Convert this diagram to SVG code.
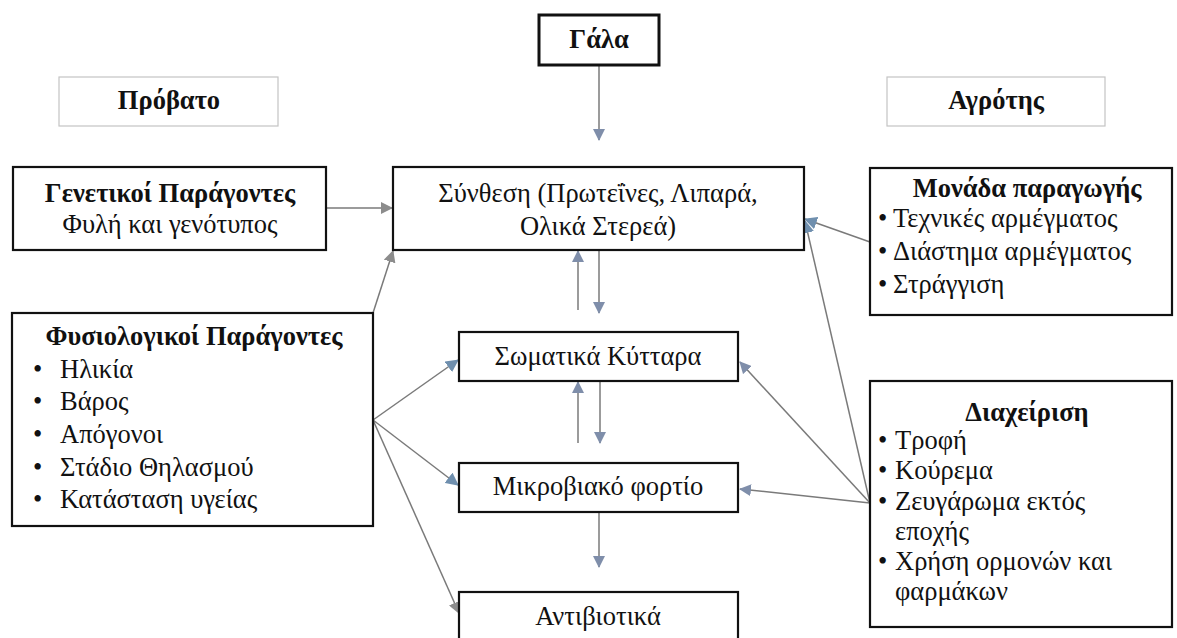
<svg xmlns="http://www.w3.org/2000/svg" width="1177" height="638" viewBox="0 0 1177 638">
<defs>
<style>
.t{font-family:"Liberation Serif","DejaVu Serif","Times New Roman",serif;font-size:26.5px;fill:#111}
.b{font-weight:bold}
.m{text-anchor:middle}
.box{fill:#fff;stroke:#111;stroke-width:2.2}
.lbox{fill:#fff;stroke:#c4c4c4;stroke-width:1.2}
.c{stroke:#7a7a7a;stroke-width:1.5;fill:none}
</style>
<marker id="ab" viewBox="0 0 12 12" refX="11" refY="6" markerWidth="12" markerHeight="12" markerUnits="userSpaceOnUse" orient="auto"><path d="M0,0 L12,6 L0,12 z" fill="#7f8eaa"/></marker>
<marker id="ag" viewBox="0 0 12 12" refX="11" refY="6" markerWidth="12" markerHeight="12" markerUnits="userSpaceOnUse" orient="auto"><path d="M0,0 L12,6 L0,12 z" fill="#8c8c8c"/></marker>
<marker id="as" viewBox="0 0 12 12" refX="11" refY="6" markerWidth="13" markerHeight="13" markerUnits="userSpaceOnUse" orient="auto"><path d="M0,0 L12,6 L0,12 z" fill="#6f8fae"/></marker>
</defs>
<rect width="1177" height="638" fill="#fff"/>

<g id="connectors">
<line class="c" x1="599" y1="65" x2="599" y2="140" marker-end="url(#ab)"/>
<line class="c" x1="326" y1="208" x2="392" y2="208" marker-end="url(#ag)"/>
<line class="c" x1="373" y1="313" x2="393" y2="251" marker-end="url(#ag)"/>
<line class="c" x1="578" y1="310" x2="578" y2="251" marker-end="url(#ab)"/>
<line class="c" x1="599" y1="251" x2="599" y2="313" marker-end="url(#ab)"/>
<line class="c" x1="578" y1="443" x2="578" y2="382" marker-end="url(#ab)"/>
<line class="c" x1="600" y1="382" x2="600" y2="443" marker-end="url(#ab)"/>
<line class="c" x1="599" y1="513" x2="599" y2="567" marker-end="url(#ab)"/>
<line class="c" x1="373" y1="420" x2="458" y2="360" marker-end="url(#as)"/>
<line class="c" x1="373" y1="420" x2="458" y2="485" marker-end="url(#as)"/>
<line class="c" x1="373" y1="420" x2="459" y2="613" marker-end="url(#ag)"/>
<line class="c" x1="870" y1="242" x2="805" y2="219" marker-end="url(#as)"/>
<line class="c" x1="870" y1="503" x2="805" y2="221" marker-end="url(#as)"/>
<line class="c" x1="870" y1="503" x2="740" y2="362" marker-end="url(#ab)"/>
<line class="c" x1="870" y1="503" x2="740" y2="489" marker-end="url(#ab)"/>
</g>

<g id="gala">
<rect x="539" y="15" width="120" height="50" fill="#fff" stroke="#111" stroke-width="3"/>
<text class="t b m" x="599" y="48">Γάλα</text>
</g>

<g id="provato">
<rect class="lbox" x="59" y="77" width="219" height="49"/>
<text class="t b m" x="169" y="109">Πρόβατο</text>
</g>

<g id="agrotis">
<rect class="lbox" x="887" y="77" width="218" height="49"/>
<text class="t b m" x="996" y="109">Αγρότης</text>
</g>

<g id="genetikoi">
<rect class="box" x="13" y="167" width="313" height="83"/>
<text class="t b m" x="170" y="202">Γενετικοί Παράγοντες</text>
<text class="t m" x="170" y="233">Φυλή και γενότυπος</text>
</g>

<g id="synthesi">
<rect class="box" x="393" y="167" width="411" height="83"/>
<text class="t m" x="598" y="202">Σύνθεση (Πρωτεΐνες, Λιπαρά,</text>
<text class="t m" x="598" y="235">Ολικά Στερεά)</text>
</g>

<g id="monada">
<rect class="box" x="870" y="168" width="302" height="147"/>
<text class="t b m" x="1027" y="197">Μονάδα παραγωγής</text>
<text class="t" x="878" y="227">•</text><text class="t" x="893" y="227">Τεχνικές αρμέγματος</text>
<text class="t" x="878" y="260">•</text><text class="t" x="893" y="260">Διάστημα αρμέγματος</text>
<text class="t" x="878" y="293">•</text><text class="t" x="893" y="293">Στράγγιση</text>
</g>

<g id="fysiologikoi">
<rect class="box" x="12" y="313" width="361" height="213"/>
<text class="t b m" x="194" y="345">Φυσιολογικοί Παράγοντες</text>
<text class="t" x="33" y="378">•</text><text class="t" x="60" y="378">Ηλικία</text>
<text class="t" x="33" y="410">•</text><text class="t" x="60" y="410">Βάρος</text>
<text class="t" x="33" y="443">•</text><text class="t" x="60" y="443">Απόγονοι</text>
<text class="t" x="33" y="476">•</text><text class="t" x="60" y="476">Στάδιο Θηλασμού</text>
<text class="t" x="33" y="508">•</text><text class="t" x="60" y="508">Κατάσταση υγείας</text>
</g>

<g id="somatika">
<rect class="box" x="459" y="332" width="279" height="49"/>
<text class="t m" x="598" y="365">Σωματικά Κύτταρα</text>
</g>

<g id="mikroviako">
<rect class="box" x="459" y="463" width="279" height="49"/>
<text class="t m" x="598" y="495">Μικροβιακό φορτίο</text>
</g>

<g id="antiviotika">
<rect class="box" x="459" y="592" width="279" height="60"/>
<text class="t m" x="598" y="625">Αντιβιοτικά</text>
</g>

<g id="diaxeirisi">
<rect class="box" x="870" y="381" width="302" height="246"/>
<text class="t b m" x="1027" y="421">Διαχείριση</text>
<text class="t" x="878" y="449">•</text><text class="t" x="895" y="449">Τροφή</text>
<text class="t" x="878" y="479">•</text><text class="t" x="895" y="479">Κούρεμα</text>
<text class="t" x="878" y="510">•</text><text class="t" x="895" y="510">Ζευγάρωμα εκτός</text>
<text class="t" x="895" y="540">εποχής</text>
<text class="t" x="878" y="570">•</text><text class="t" x="895" y="570">Χρήση ορμονών και</text>
<text class="t" x="895" y="600">φαρμάκων</text>
</g>
</svg>
